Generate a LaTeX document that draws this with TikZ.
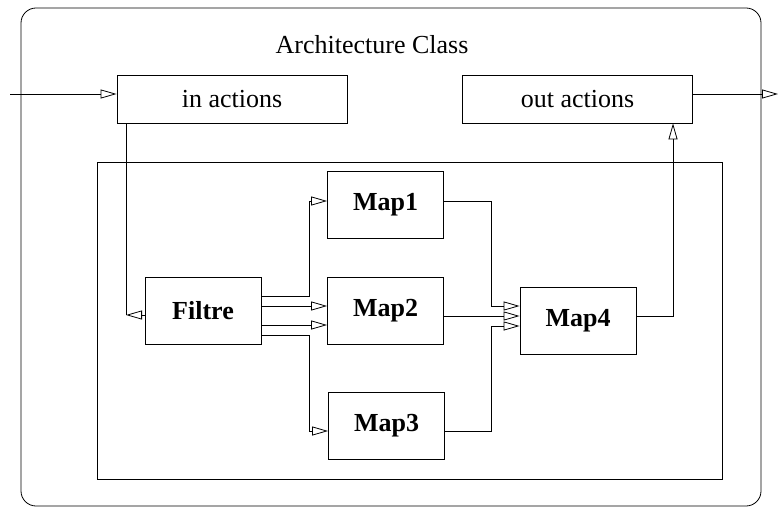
\documentclass[tikz,border=0pt]{standalone}
\usepackage{fontspec}
\setmainfont{Liberation Serif}
\usetikzlibrary{arrows.meta}

\tikzset{
	blk/.style={draw, thin, fill=white, inner sep=0pt},
	mapbox/.style={blk, minimum width=58pt, minimum height=33.5pt, font=\fontsize{13}{15}\selectfont\bfseries},
	actbox/.style={blk, minimum width=115pt, minimum height=24pt, font=\fontsize{13}{15}\selectfont},
	flow/.style={thin, -{Triangle[open, length=8pt, width=4.5pt]}}
}

\begin{document}
\begin{tikzpicture}[x=0.5pt, y=-0.5pt]
	\useasboundingbox (0,0) rectangle (779,507);
	% frames
	\draw[thin, rounded corners=7.5pt] (21,8) rectangle (761,506);
	\node[font=\fontsize{13}{15}\selectfont] (title) at (372,45) {Architecture Class};
	\draw[thin] (97,162) rectangle (722,479);
	% boxes
	\node[actbox] (in) at (232,99) {in actions};
	\node[actbox] (out) at (577.5,99) {out actions};
	\node[mapbox] (filtre) at (203,310.5) {Filtre};
	\node[mapbox] (map1) at (385.5,205) {Map1};
	\node[mapbox] (map2) at (385.5,310.5) {Map2};
	\node[mapbox] (map3) at (386.5,425.5) {Map3};
	\node[mapbox] (map4) at (578,320.5) {Map4};
	\coordinate (src) at (10,94);
	\coordinate (snk) at (778,94);
	\coordinate (bend) at (126,315);
	% connections
	\draw[flow] (src) -- (src -| in.west);
	\draw[flow] (snk -| out.east) -- (snk);
	\draw[thin] (in.south -| bend) -- (bend);
	\draw[flow] (filtre.west |- bend) -- (bend);
	\draw[flow] (filtre.east |- 0,296) -| (309,201) -- (map1.west |- 0,201);
	\draw[flow] (filtre.east |- 0,306) -- (map2.west |- 0,306);
	\draw[flow] (filtre.east |- 0,325) -- (map2.west |- 0,325);
	\draw[flow] (filtre.east |- 0,335) -| (309,431) -- (map3.west |- 0,431);
	\draw[flow] (map1.east |- 0,201) -| (491,306) -- (map4.west |- 0,306);
	\draw[flow] (map2.east |- 0,316) -- (map4.west |- 0,316);
	\draw[flow] (map3.east |- 0,431) -| (491,326) -- (map4.west |- 0,326);
	\draw[flow] (map4.east |- 0,316) -| (out.south -| 673,0);
\end{tikzpicture}
\end{document}
